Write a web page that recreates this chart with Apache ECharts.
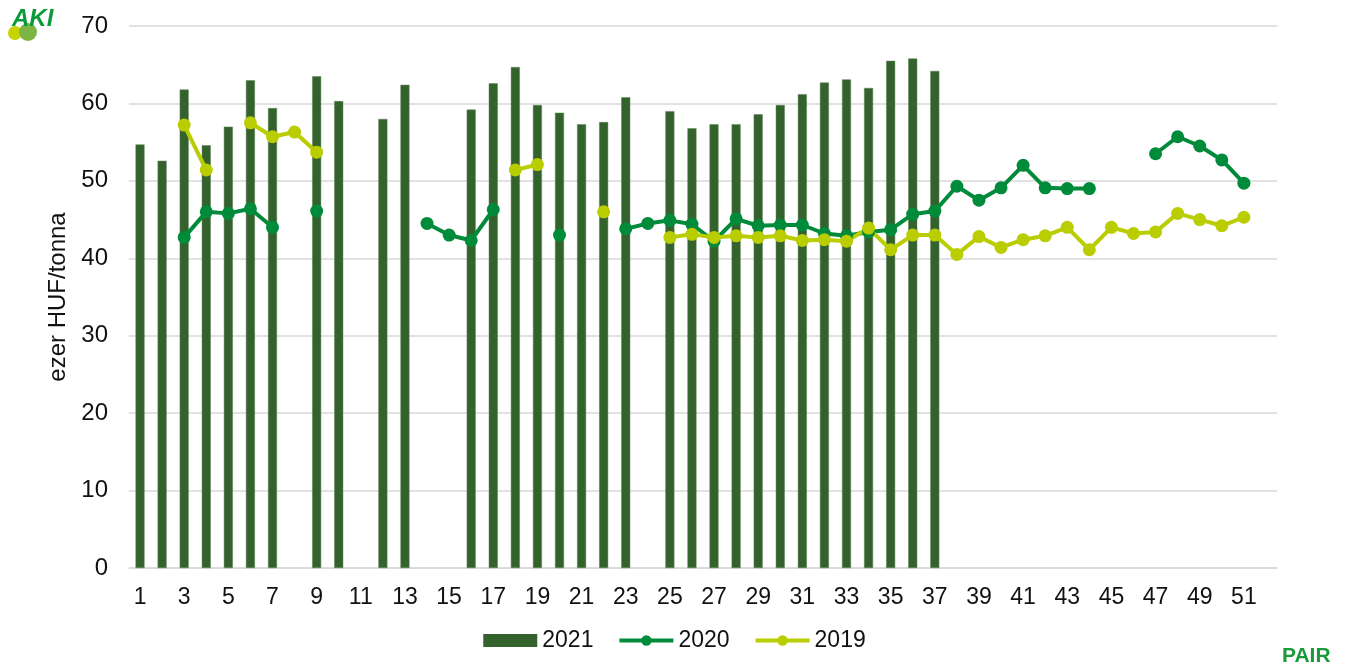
<!DOCTYPE html>
<html>
<head>
<meta charset="utf-8">
<script src="https://cdn.jsdelivr.net/npm/echarts@6/dist/echarts.min.js"></script>
<style>
html,body{margin:0;padding:0;background:#fff;}
#chart{width:1349px;height:671px;}
</style>
</head>
<body>
<div id="chart"></div>
<script>
// Week numbers
const weeks = Array.from({length: 52}, (_, i) => String(i + 1));
const yTicks = [0, 10, 20, 30, 40, 50, 60, 70];
const seriesNames = ['2021', '2020', '2019'];

const values2021 = [54.7, 52.6, 61.8, 54.6, 57.0, 63.0, 59.4, null, 63.5, 60.3,
  null, 58.0, 62.4, null, null, 59.2, 62.6, 64.7, 59.8, 58.8,
  57.3, 57.6, 60.8, null, 59.0, 56.8, 57.3, 57.3, 58.6, 59.8,
  61.2, 62.7, 63.1, 62.0, 65.5, 65.8, 64.2, null, null, null,
  null, null, null, null, null, null, null, null, null, null,
  null, null];

const values2020 = [null, null, 42.7, 46.0, 45.8, 46.4, 44.0, null, 46.1, null,
  null, null, null, 44.5, 43.0, 42.3, 46.3, null, null, 43.0,
  null, null, 43.8, 44.5, 44.9, 44.4, 42.2, 45.1, 44.2, 44.3,
  44.3, 43.2, 42.9, 43.4, 43.7, 45.7, 46.1, 49.3, 47.5, 49.1,
  52.0, 49.1, 49.0, 49.0, null, null, 53.5, 55.7, 54.5, 52.7,
  49.7, null];

const values2019 = [null, null, 57.2, 51.4, null, 57.5, 55.7, 56.3, 53.7, null,
  null, null, null, null, null, null, null, 51.4, 52.1, null,
  null, 46.0, null, null, 42.7, 43.1, 42.7, 42.9, 42.7, 42.9,
  42.3, 42.4, 42.2, 43.9, 41.1, 43.0, 43.0, 40.5, 42.8, 41.4,
  42.4, 42.9, 44.0, 41.1, 44.0, 43.2, 43.4, 45.8, 45.0, 44.2,
  45.3, null];

const FONT = '"Liberation Sans", Arial, sans-serif';
const C2021 = '#34622D', C2020 = '#008B3A', C2019 = '#B9CD00';

const chart = echarts.init(document.getElementById('chart'));
chart.setOption({
  animation: false,
  backgroundColor: '#fff',
  textStyle: {fontFamily: FONT},
  grid: {left: 129, right: 72, top: 26, bottom: 103},
  legend: {
    bottom: 14,
    left: 'center',
    itemWidth: 54,
    itemHeight: 13,
    itemGap: 24,
    textStyle: {fontFamily: FONT, fontSize: 23, color: '#111'},
    data: [
      {name: seriesNames[0], icon: 'rect', itemStyle: {borderWidth: 0}},
      {name: seriesNames[1], lineStyle: {width: 4}},
      {name: seriesNames[2], lineStyle: {width: 4}}
    ]
  },
  xAxis: {
    type: 'category',
    data: weeks,
    boundaryGap: true,
    axisLine: {show: true, lineStyle: {color: '#d9d9d9', width: 1.5}},
    axisTick: {show: false},
    axisLabel: {interval: 1, fontSize: 23, color: '#111', margin: 18, fontFamily: FONT}
  },
  yAxis: {
    type: 'value',
    min: yTicks[0],
    max: yTicks[yTicks.length - 1],
    interval: 10,
    name: 'ezer HUF/tonna',
    nameLocation: 'middle',
    nameGap: 55,
    nameTextStyle: {fontSize: 24, color: '#111', fontFamily: FONT},
    axisLine: {show: false},
    axisTick: {show: false},
    axisLabel: {fontSize: 24, color: '#111', margin: 21, fontFamily: FONT},
    splitLine: {lineStyle: {color: '#d9d9d9', width: 1.5}}
  },
  series: [
    {
      name: seriesNames[0],
      type: 'bar',
      data: values2021,
      barWidth: 9,
      itemStyle: {color: C2021, borderColor: '#5E8356', borderWidth: 0.5}
    },
    {
      name: seriesNames[1],
      type: 'line',
      data: values2020,
      connectNulls: false,
      symbol: 'circle',
      symbolSize: 13,
      showAllSymbol: true,
      lineStyle: {color: C2020, width: 4},
      itemStyle: {color: C2020}
    },
    {
      name: seriesNames[2],
      type: 'line',
      data: values2019,
      connectNulls: false,
      symbol: 'circle',
      symbolSize: 13,
      showAllSymbol: true,
      lineStyle: {color: C2019, width: 4},
      itemStyle: {color: C2019}
    }
  ],
  graphic: [
    {type: 'circle', left: 8, top: 26, shape: {r: 7}, style: {fill: '#C8D400'}, z: 10},
    {type: 'circle', left: 19, top: 23, shape: {r: 9}, style: {fill: '#7DB544'}, z: 10},
    {type: 'text', left: 12, top: 7, z: 11, style: {text: 'AKI', fill: '#0A9A3C', font: 'italic bold 24px ' + FONT}},
    {type: 'text', left: 1282, top: 646, z: 11, style: {text: 'PAIR', fill: '#1A9A3A', font: 'bold 21px ' + FONT}}
  ]
});
</script>
</body>
</html>
